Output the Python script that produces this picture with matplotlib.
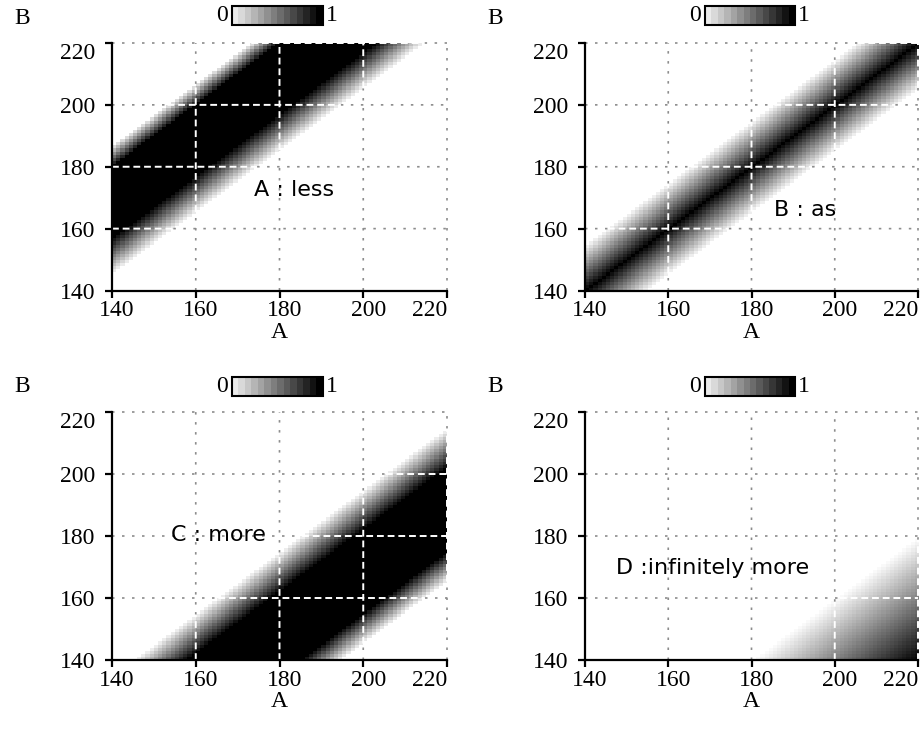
import numpy as np
import matplotlib
matplotlib.use("Agg")
import matplotlib.pyplot as plt
from matplotlib.colors import ListedColormap, Normalize
from matplotlib.cm import ScalarMappable
from matplotlib.transforms import ScaledTranslation

# axis values (A on x, B on y)
axis_min, axis_max = 140, 220
ticks = [140, 160, 180, 200, 220]

# membership break points (d = difference in units)
less_pts = [5, 17, 40, 47]       # d = B - A, trapezoid
as_pts = [-15, 0, 0, 15]         # d = B - A, triangle
more_pts = [5, 18, 45, 55]       # d = A - B, trapezoid
inf_more_pts = [40, 80]          # d = A - B, ramp 0 -> 1

panel_texts = ["A : less", "B : as", "C : more", "D :infinitely more"]


def mu_less(a, b):
    return np.interp(b - a, less_pts, [0, 1, 1, 0], left=0, right=0)


def mu_as(a, b):
    return np.interp(b - a, as_pts, [0, 1, 1, 0], left=0, right=0)


def mu_more(a, b):
    return np.interp(a - b, more_pts, [0, 1, 1, 0], left=0, right=0)


def mu_inf_more(a, b):
    return np.interp(a - b, inf_more_pts, [0, 1], left=0, right=1)


funcs = [mu_less, mu_as, mu_more, mu_inf_more]

# layout in figure pixels
W, H = 923, 730
axes_px = [(112, 447, 43, 290.5), (585, 918, 43, 290.5),
           (112, 447, 412, 660), (585, 918, 412, 660)]
cbar_px = [(232, 323, 6, 25), (705, 795, 6, 25),
           (232, 323, 377, 396), (705, 795, 377, 396)]
text_pos = [(174, 172.5), (185.5, 166), (154, 180.3), (147.5, 169.7)]

serif = "Liberation Serif"
fs = 17

fig = plt.figure(figsize=(W / 100, H / 100), dpi=100)

centers = np.arange(axis_min + 0.5, axis_max, 1.0)
AA, BB = np.meshgrid(centers, centers)
line_t = np.linspace(axis_min, axis_max, 1601)
thr = 0.03

bar_cmap = ListedColormap(plt.get_cmap("gray_r")(np.linspace(0.08, 1.0, 14)))

for i, f in enumerate(funcs):
    l, r, t, b = axes_px[i]
    ax = fig.add_axes([l / W, 1 - b / H, (r - l) / W, (b - t) / H])
    Z = f(AA, BB)
    ax.imshow(Z, cmap="gray_r", vmin=0, vmax=1, origin="lower",
              extent=(axis_min, axis_max, axis_min, axis_max),
              interpolation="nearest", aspect="auto", zorder=1)

    # grid: grey dotted on the light part, white dashed on the dark band
    for v in ticks[1:]:
        const = np.full_like(line_t, v)
        mh = f(line_t, const)
        mv = f(const, line_t)
        for xs, ys, m in [(line_t, const, mh), (const, line_t, mv)]:
            ax.plot(np.ma.masked_where(m > thr, xs), ys, color="#8c8c8c",
                    lw=1.2, ls=(0, (1.5, 4.5)), zorder=2, clip_on=False)
            ax.plot(np.ma.masked_where(m <= thr, xs), ys, color="white",
                    lw=1.4, ls=(0, (3.5, 2)), zorder=3, clip_on=False)

    ax.set_xlim(axis_min, axis_max)
    ax.set_ylim(axis_min, axis_max)
    ax.set_xticks(ticks)
    ax.set_yticks(ticks)
    for s in ["top", "right"]:
        ax.spines[s].set_visible(False)
    for s in ["left", "bottom"]:
        ax.spines[s].set_linewidth(1.6)
        ax.spines[s].set_zorder(5)
    ax.tick_params(direction="out", length=5, width=1.6, labelsize=fs)
    ax.tick_params(axis="x", pad=2)
    ax.tick_params(axis="y", pad=7)

    xl = ax.get_xticklabels()
    yl = ax.get_yticklabels()
    for lab in xl + yl:
        lab.set_fontfamily(serif)
    shift = ScaledTranslation(5 / 100, 0, fig.dpi_scale_trans)
    for lab in xl[:-1]:
        lab.set_transform(lab.get_transform() + shift)
    xl[-1].set_horizontalalignment("right")
    yl[-1].set_verticalalignment("top")

    tx, ty = text_pos[i]
    ax.text(tx, ty, panel_texts[i], fontsize=16, family="DejaVu Sans",
            ha="left", va="center", zorder=6)

    # axis names
    fig.text((l + r) / 2 / W, 1 - (b + 31) / H, "A", family=serif,
             fontsize=fs, ha="center", va="top")
    fig.text((l - 90) / W, 1 - (t - 25) / H, "B", family=serif,
             fontsize=fs, ha="center", va="center")

    # small colour bar
    cl, cr, ct, cb = cbar_px[i]
    cax = fig.add_axes([cl / W, 1 - cb / H, (cr - cl) / W, (cb - ct) / H])
    sm = ScalarMappable(norm=Normalize(0, 1), cmap=bar_cmap)
    cbar = fig.colorbar(sm, cax=cax, orientation="horizontal")
    cbar.set_ticks([])
    cbar.outline.set_linewidth(1.5)
    fig.text((cl - 4) / W, 1 - (ct + cb) / 2 / H, "0", family=serif,
             fontsize=fs, ha="right", va="center")
    fig.text((cr + 3) / W, 1 - (ct + cb) / 2 / H, "1", family=serif,
             fontsize=fs, ha="left", va="center")

fig.savefig("out.png", dpi=100)
